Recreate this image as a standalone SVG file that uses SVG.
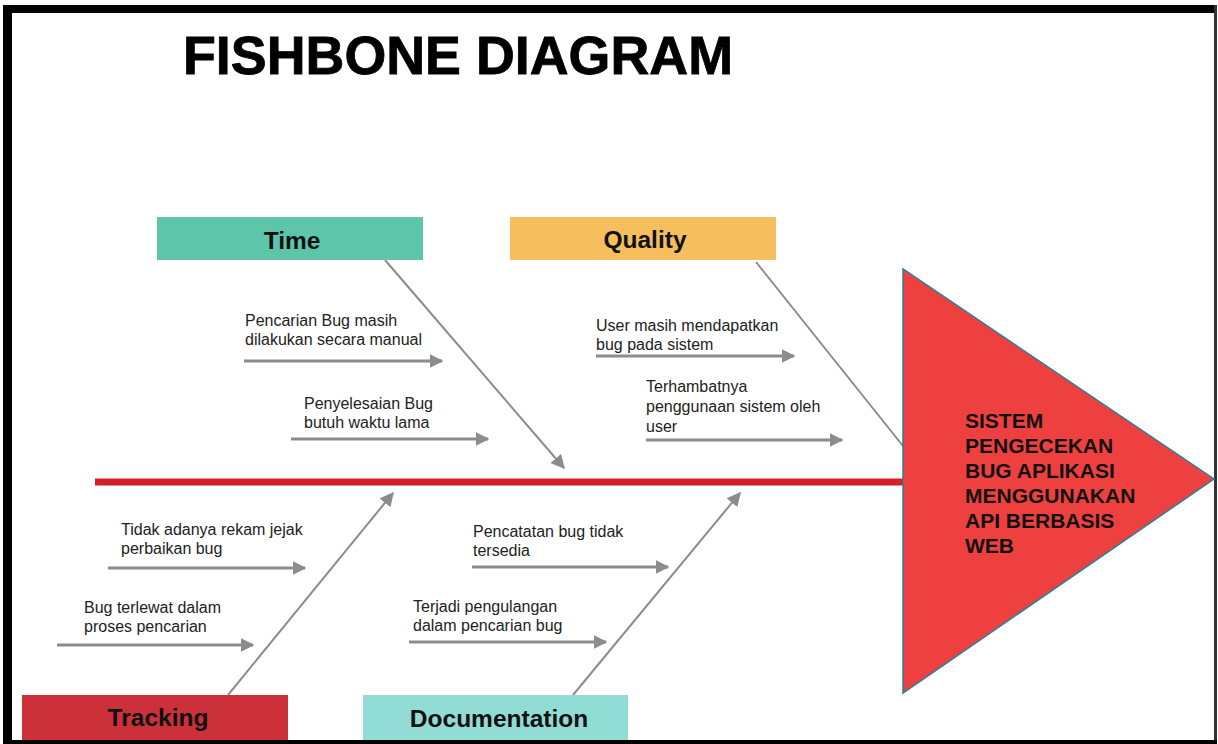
<svg xmlns="http://www.w3.org/2000/svg" width="1218" height="744" viewBox="0 0 1218 744">
  <defs>
    <marker id="head" viewBox="0 0 10 10" refX="9" refY="5" markerWidth="4.5" markerHeight="4.5" markerUnits="strokeWidth" orient="auto">
      <path d="M0,0 L10,5 L0,10 z" fill="#8c8c8c"/>
    </marker>
    <marker id="headThin" viewBox="0 0 10 10" refX="9" refY="5" markerWidth="7" markerHeight="7" markerUnits="strokeWidth" orient="auto">
      <path d="M0,0 L10,5 L0,10 z" fill="#8c8c8c"/>
    </marker>
  </defs>
  <style>
    .title { font-family: "Liberation Sans", Arial, sans-serif; font-weight: bold; font-size: 54px; fill: #000; stroke: #000; stroke-width: 0.8px; }
    .cat { font-family: "Liberation Sans", Arial, sans-serif; font-weight: bold; font-size: 24.5px; fill: #111; text-anchor: middle; }
    .cause { font-family: "Liberation Sans", Arial, sans-serif; font-size: 16px; fill: #222; }
    .effect { font-family: "Liberation Sans", Arial, sans-serif; font-weight: bold; font-size: 21px; fill: #111; }
    .sub { stroke: #8c8c8c; stroke-width: 3; fill: none; marker-end: url(#head); }
    .bone { stroke: #8c8c8c; stroke-width: 2; fill: none; }
    .bone.arrow { marker-end: url(#headThin); }
  </style>

  <!-- page background and frame -->
  <rect x="0" y="0" width="1218" height="744" fill="#ffffff"/>
  <rect x="3" y="5" width="1212" height="8" fill="#000"/>
  <rect x="3" y="5" width="9" height="739" fill="#000"/>
  <rect x="1214" y="5" width="3" height="738" fill="#333"/>
  <rect x="3" y="740" width="1214" height="4" fill="#000"/>

  <!-- heading -->
  <text class="title" x="183" y="74" textLength="550" lengthAdjust="spacingAndGlyphs">FISHBONE DIAGRAM</text>

  <!-- connectors: spine, category bones and cause arrows -->
  <g id="connectors">
    <line x1="95" y1="482" x2="905" y2="482" stroke="#d41f2b" stroke-width="7"/>
    <line class="bone arrow" x1="385" y1="260" x2="564" y2="468"/>
    <line class="bone" x1="756" y1="262" x2="903" y2="446"/>
    <line class="bone arrow" x1="228" y1="695" x2="393" y2="493"/>
    <line class="bone arrow" x1="573" y1="695" x2="740" y2="493"/>

    <line class="sub" x1="244" y1="361" x2="442" y2="361"/>
    <line class="sub" x1="291" y1="439" x2="488" y2="439"/>
    <line class="sub" x1="596" y1="356" x2="794" y2="356"/>
    <line class="sub" x1="646" y1="440" x2="842" y2="440"/>
    <line class="sub" x1="108" y1="568" x2="305" y2="568"/>
    <line class="sub" x1="57" y1="645" x2="253" y2="645"/>
    <line class="sub" x1="472" y1="567" x2="668" y2="567"/>
    <line class="sub" x1="409" y1="642" x2="606" y2="642"/>
  </g>

  <!-- categories -->
  <g id="time">
    <rect x="157" y="217" width="266" height="43" fill="#5dc5a9"/>
    <text class="cat" x="292" y="249">Time</text>
  </g>
  <g id="quality">
    <rect x="510" y="217" width="266" height="43" fill="#f6be5c"/>
    <text class="cat" x="645" y="248">Quality</text>
  </g>
  <g id="tracking">
    <rect x="22" y="695" width="266" height="45" fill="#cc3039"/>
    <text class="cat" x="158" y="726">Tracking</text>
  </g>
  <g id="documentation">
    <rect x="363" y="695" width="265" height="45" fill="#92dcd6"/>
    <text class="cat" x="499" y="727">Documentation</text>
  </g>

  <!-- causes -->
  <g id="cause-time-1">
    <text class="cause" x="245" y="326">Pencarian Bug masih</text>
    <text class="cause" x="245" y="345">dilakukan secara manual</text>
  </g>
  <g id="cause-time-2">
    <text class="cause" x="304" y="409">Penyelesaian Bug</text>
    <text class="cause" x="304" y="428">butuh waktu lama</text>
  </g>
  <g id="cause-quality-1">
    <text class="cause" x="596" y="331">User masih mendapatkan</text>
    <text class="cause" x="596" y="350">bug pada sistem</text>
  </g>
  <g id="cause-quality-2">
    <text class="cause" x="646" y="392">Terhambatnya</text>
    <text class="cause" x="646" y="412">penggunaan sistem oleh</text>
    <text class="cause" x="646" y="432">user</text>
  </g>
  <g id="cause-tracking-1">
    <text class="cause" x="121" y="535">Tidak adanya rekam jejak</text>
    <text class="cause" x="121" y="554">perbaikan bug</text>
  </g>
  <g id="cause-tracking-2">
    <text class="cause" x="84" y="613">Bug terlewat dalam</text>
    <text class="cause" x="84" y="632">proses pencarian</text>
  </g>
  <g id="cause-documentation-1">
    <text class="cause" x="473" y="537">Pencatatan bug tidak</text>
    <text class="cause" x="473" y="556">tersedia</text>
  </g>
  <g id="cause-documentation-2">
    <text class="cause" x="413" y="612">Terjadi pengulangan</text>
    <text class="cause" x="413" y="631">dalam pencarian bug</text>
  </g>

  <!-- effect head -->
  <g id="effect">
    <polygon points="903,269 903,693 1214,479" fill="#ef4040" stroke="#2a7f9a" stroke-width="1.5"/>
    <text class="effect" x="965" y="428">SISTEM</text>
    <text class="effect" x="965" y="453">PENGECEKAN</text>
    <text class="effect" x="965" y="478">BUG APLIKASI</text>
    <text class="effect" x="965" y="503">MENGGUNAKAN</text>
    <text class="effect" x="965" y="528">API BERBASIS</text>
    <text class="effect" x="965" y="553">WEB</text>
  </g>
</svg>
